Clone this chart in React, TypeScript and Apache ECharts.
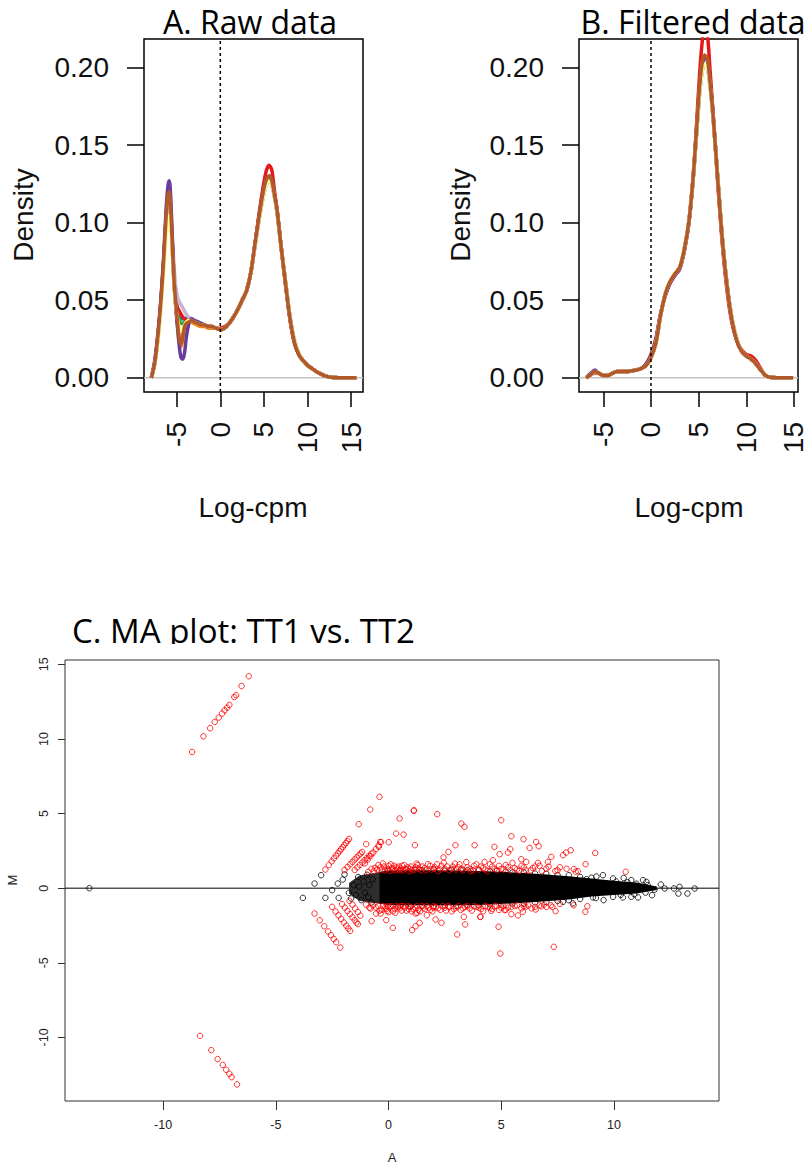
import React, { useEffect, useRef } from "react";
import * as echarts from "echarts";

// ---------- Panel A / B : density curves (12 samples, RColorBrewer "Paired") ----------
const sampleColors = ["#A6CEE3", "#1F78B4", "#B2DF8A", "#33A02C", "#FB9A99", "#E31A1C", "#FDBF6F", "#FF7F00", "#CAB2D6", "#6A3D9A", "#FFFF99", "#B15928"];

const rawXLeft = [-7.9, -7.5, -7.1, -6.8, -6.5, -6.2, -6.0, -5.85, -5.7, -5.5, -5.3, -5.1, -4.9, -4.7, -4.5, -4.3, -4.1, -3.9, -3.6, -3.3, -3.0, -2.6, -2.2, -1.8, -1.4, -1.0];
const rawLeftLightBlue = [0, 0.010, 0.028, 0.048, 0.072, 0.101, 0.112, 0.114, 0.106, 0.086, 0.066, 0.052, 0.045, 0.041, 0.040, 0.039, 0.039, 0.038, 0.038, 0.037, 0.036, 0.035, 0.035, 0.034, 0.033, 0.033];
const rawLeftBlue = [0, 0.010, 0.029, 0.049, 0.074, 0.104, 0.116, 0.118, 0.108, 0.085, 0.063, 0.049, 0.042, 0.039, 0.038, 0.038, 0.038, 0.038, 0.038, 0.037, 0.036, 0.035, 0.035, 0.034, 0.033, 0.033];
const rawLeftLightGreen = [0, 0.010, 0.029, 0.049, 0.073, 0.103, 0.114, 0.116, 0.106, 0.083, 0.060, 0.046, 0.036, 0.029, 0.027, 0.029, 0.033, 0.035, 0.036, 0.037, 0.036, 0.035, 0.034, 0.034, 0.033, 0.033];
const rawLeftGreen = [0, 0.010, 0.029, 0.049, 0.074, 0.104, 0.115, 0.117, 0.107, 0.084, 0.062, 0.048, 0.040, 0.037, 0.035, 0.035, 0.036, 0.037, 0.038, 0.038, 0.037, 0.036, 0.035, 0.034, 0.033, 0.033];
const rawLeftPink = [0, 0.010, 0.029, 0.049, 0.073, 0.103, 0.114, 0.116, 0.106, 0.083, 0.061, 0.047, 0.037, 0.031, 0.029, 0.030, 0.033, 0.035, 0.036, 0.037, 0.036, 0.035, 0.034, 0.034, 0.033, 0.033];
const rawLeftRed = [0, 0.010, 0.029, 0.049, 0.073, 0.102, 0.114, 0.116, 0.107, 0.085, 0.064, 0.050, 0.045, 0.043, 0.041, 0.039, 0.038, 0.037, 0.037, 0.037, 0.036, 0.035, 0.035, 0.034, 0.033, 0.033];
const rawLeftLightOrange = [0, 0.010, 0.029, 0.049, 0.074, 0.104, 0.115, 0.117, 0.107, 0.083, 0.060, 0.046, 0.035, 0.027, 0.025, 0.028, 0.032, 0.035, 0.036, 0.036, 0.035, 0.034, 0.034, 0.033, 0.033, 0.032];
const rawLeftOrange = [0, 0.010, 0.030, 0.050, 0.075, 0.106, 0.117, 0.118, 0.108, 0.083, 0.060, 0.046, 0.033, 0.023, 0.020, 0.025, 0.032, 0.035, 0.036, 0.036, 0.035, 0.034, 0.033, 0.033, 0.032, 0.032];
const rawLeftLightPurple = [0, 0.010, 0.028, 0.048, 0.072, 0.100, 0.112, 0.115, 0.108, 0.090, 0.072, 0.058, 0.052, 0.049, 0.047, 0.045, 0.043, 0.041, 0.039, 0.038, 0.037, 0.036, 0.035, 0.034, 0.033, 0.033];
const rawLeftPurple = [0, 0.012, 0.032, 0.052, 0.078, 0.110, 0.124, 0.127, 0.118, 0.090, 0.062, 0.045, 0.032, 0.020, 0.013, 0.012, 0.016, 0.026, 0.035, 0.038, 0.037, 0.036, 0.035, 0.034, 0.033, 0.033];
const rawLeftYellow = [0, 0.009, 0.026, 0.044, 0.066, 0.092, 0.102, 0.105, 0.098, 0.080, 0.060, 0.046, 0.038, 0.032, 0.030, 0.031, 0.034, 0.036, 0.037, 0.037, 0.036, 0.035, 0.034, 0.034, 0.033, 0.033];
const rawLeftBrown = [0, 0.010, 0.030, 0.050, 0.075, 0.105, 0.118, 0.120, 0.110, 0.085, 0.062, 0.048, 0.036, 0.024, 0.022, 0.027, 0.033, 0.035, 0.036, 0.037, 0.036, 0.035, 0.034, 0.034, 0.033, 0.033];

const rawXRight = [-0.5, 0, 0.5, 1, 1.5, 2, 2.5, 3, 3.5, 4, 4.5, 5, 5.3, 5.6, 5.9, 6.2, 6.5, 7, 7.5, 8, 8.5, 9, 9.5, 10, 10.5, 11, 11.5, 12, 12.5, 13, 14, 15, 15.6];
const rawRightCommon = [0.032, 0.031, 0.032, 0.035, 0.039, 0.044, 0.050, 0.056, 0.068, 0.087, 0.106, 0.122, 0.128, 0.130, 0.127, 0.118, 0.108, 0.083, 0.060, 0.038, 0.023, 0.015, 0.011, 0.008, 0.006, 0.004, 0.0025, 0.0012, 0.0005, 0.0002, 0, 0, 0];
const rawRightRed = [0.032, 0.032, 0.033, 0.035, 0.039, 0.044, 0.050, 0.056, 0.068, 0.087, 0.108, 0.126, 0.134, 0.137, 0.134, 0.121, 0.109, 0.083, 0.059, 0.037, 0.022, 0.015, 0.011, 0.008, 0.006, 0.004, 0.0025, 0.0012, 0.0005, 0.0002, 0, 0, 0];
const rawRightLow = [0.032, 0.031, 0.032, 0.035, 0.039, 0.044, 0.050, 0.056, 0.068, 0.086, 0.104, 0.119, 0.125, 0.127, 0.125, 0.117, 0.107, 0.083, 0.061, 0.039, 0.024, 0.016, 0.011, 0.008, 0.006, 0.004, 0.0025, 0.0012, 0.0005, 0.0002, 0, 0, 0];

const filtX = [-6.8, -6.3, -5.9, -5.5, -5.0, -4.5, -4.0, -3.5, -3.0, -2.5, -2.0, -1.5, -1.0, -0.5, 0, 0.5, 1.0, 1.5, 2.0, 2.5, 3.0, 3.5, 4.0, 4.5, 5.0, 5.3, 5.6, 5.9, 6.2, 6.5, 7.0, 7.5, 8.0, 8.5, 9.0, 9.5, 10.0, 10.5, 11.0, 11.5, 12.0, 12.5, 13.5, 14.9];
const filtCommon = [0, 0.002, 0.004, 0.003, 0.0015, 0.0015, 0.003, 0.004, 0.004, 0.004, 0.0045, 0.005, 0.006, 0.008, 0.013, 0.022, 0.040, 0.054, 0.062, 0.067, 0.071, 0.083, 0.102, 0.135, 0.180, 0.200, 0.208, 0.206, 0.190, 0.170, 0.128, 0.088, 0.058, 0.037, 0.024, 0.017, 0.014, 0.012, 0.009, 0.005, 0.0015, 0.0003, 0, 0];
const filtRed = [0, 0.002, 0.003, 0.003, 0.0015, 0.0015, 0.003, 0.004, 0.004, 0.004, 0.0045, 0.005, 0.006, 0.009, 0.015, 0.025, 0.041, 0.053, 0.061, 0.066, 0.070, 0.082, 0.101, 0.136, 0.186, 0.212, 0.224, 0.222, 0.198, 0.172, 0.126, 0.085, 0.055, 0.035, 0.024, 0.018, 0.015, 0.014, 0.011, 0.006, 0.0015, 0.0003, 0, 0];
const filtPurple = [0, 0.003, 0.005, 0.003, 0.0015, 0.0015, 0.003, 0.004, 0.004, 0.004, 0.0045, 0.005, 0.006, 0.009, 0.014, 0.024, 0.041, 0.053, 0.061, 0.066, 0.070, 0.082, 0.101, 0.134, 0.178, 0.199, 0.206, 0.205, 0.190, 0.171, 0.129, 0.089, 0.059, 0.037, 0.024, 0.017, 0.014, 0.012, 0.009, 0.005, 0.0015, 0.0003, 0, 0];
const filtLow = [0, 0.002, 0.004, 0.003, 0.0015, 0.0015, 0.003, 0.004, 0.004, 0.004, 0.0045, 0.005, 0.006, 0.008, 0.013, 0.022, 0.040, 0.054, 0.062, 0.067, 0.071, 0.083, 0.102, 0.134, 0.176, 0.195, 0.202, 0.201, 0.188, 0.169, 0.129, 0.089, 0.059, 0.038, 0.025, 0.017, 0.014, 0.012, 0.009, 0.005, 0.0015, 0.0003, 0, 0];

const rawLeftBySample = [rawLeftLightBlue, rawLeftBlue, rawLeftLightGreen, rawLeftGreen, rawLeftPink, rawLeftRed, rawLeftLightOrange, rawLeftOrange, rawLeftLightPurple, rawLeftPurple, rawLeftYellow, rawLeftBrown];
const rawRightBySample = [rawRightLow, rawRightCommon, rawRightLow, rawRightLow, rawRightCommon, rawRightRed, rawRightLow, rawRightCommon, rawRightLow, rawRightCommon, rawRightLow, rawRightCommon];
const filtBySample = [filtLow, filtCommon, filtLow, filtLow, filtCommon, filtRed, filtLow, filtCommon, filtLow, filtPurple, filtLow, filtCommon];

const densYTicks = [0, 0.05, 0.1, 0.15, 0.2];
const densXTicks = [-5, 0, 5, 10, 15];

// ---------- Panel C : MA plot ----------
const maXTicks = [-10, -5, 0, 5, 10];
const maYTicks = [-10, -5, 0, 5, 10, 15];

// dense central cloud of non-DE genes (envelope of the solid black mass)
const bandA = [-0.4, 0, 1, 2, 3, 4, 5, 6, 7, 8, 9, 10, 11, 11.9];
const bandUpper = [1.1, 1.18, 1.2, 1.2, 1.18, 1.15, 1.1, 1.02, 0.92, 0.8, 0.65, 0.5, 0.38, 0.12];
const bandLower = [-1.05, -1.12, -1.15, -1.15, -1.14, -1.12, -1.06, -0.98, -0.88, -0.75, -0.55, -0.45, -0.35, -0.12];
// hatched low-count fan left of the solid mass
const latticeA = [-1.75, -1.3, -0.8, -0.35];
const latticeUpper = [0.35, 0.85, 0.98, 1.08];
const latticeLower = [-0.35, -0.85, -0.98, -1.03];

const blackPoints = [
  [-13.27, 0], [-3.80, -0.65], [-3.28, 0.31], [-2.99, 0.87], [-2.80, -0.65], [-2.50, -0.13], [-2.21, -0.65], [-2.25, 0.31],
  [-2.03, 0.58], [-1.95, 0.92], [-1.76, -0.31], [-1.66, -0.69], [-1.55, 0.2], [-1.45, -0.45], [-1.35, 0.75], [-1.3, 0.1],
  [-1.2, -0.8], [-1.1, 0.45], [-1.05, -0.3], [-0.95, 0.9], [-0.9, -0.6], [-0.85, 0.2], [-0.75, -0.95], [-0.7, 0.6],
  [9.51, 0.87], [9.96, 0.65], [10.43, 0.69], [10.77, 0.54], [11.29, 0.54], [11.44, 0.42], [12.08, 0.25], [12.25, -0.02],
  [12.66, -0.02], [12.91, 0.09], [12.86, -0.36], [13.26, -0.36], [13.58, -0.02], [9.54, -0.8], [9.96, -0.58], [10.40, -0.62],
  [9.07, -0.62], [8.18, -1.02], [7.74, -0.91], [10.77, -0.58], [11.07, -0.62], [11.69, -0.47], [8.78, 0.6], [9.22, 0.78],
  [0.5, 1.15], [1.5, 1.2], [2.5, 1.18], [3.5, 1.2], [4.5, 1.12], [5.5, 1.06], [6.5, 0.98], [7.5, 0.88], [8.5, 0.75],
  [0.5, -1.15], [1.5, -1.16], [2.5, -1.15], [3.5, -1.12], [4.5, -1.08], [5.5, -1.02], [6.5, -0.95], [7.5, -0.85], [8.5, -0.72],
  [0.0, 1.2], [0.8, 1.24], [1.2, 1.22], [2.0, 1.25], [2.8, 1.22], [3.2, 1.24], [4.0, 1.2], [4.8, 1.15], [5.2, 1.1], [6.0, 1.06],
  [7.0, 0.97], [8.0, 0.87], [9.0, 0.7], [0.2, -1.17], [1.0, -1.2], [2.0, -1.2], [3.0, -1.18], [4.0, -1.15], [5.0, -1.1],
  [6.0, -1.03], [7.0, -0.93], [8.0, -0.8], [9.2, -0.66], [10.1, 0.45], [10.6, 0.4], [11.0, 0.3], [11.5, 0.2], [11.8, -0.1],
  [10.3, -0.45], [10.9, -0.4], [11.4, -0.3],
];

const redFarUpper = [[-8.71, 9.13], [-8.21, 10.18], [-7.91, 10.72], [-7.71, 11.14], [-7.53, 11.43], [-7.38, 11.70], [-7.27, 11.92], [-7.16, 12.10], [-7.06, 12.28], [-6.84, 12.81], [-6.76, 12.93], [-6.52, 13.55], [-6.20, 14.20]];
const redFarLower = [[-8.36, -9.89], [-7.86, -10.85], [-7.58, -11.45], [-7.35, -11.84], [-7.20, -12.17], [-7.06, -12.44], [-6.96, -12.66], [-6.72, -13.15]];

const redStreaks = [
  [-2.80, 1.25], [-2.65, 1.55], [-2.52, 1.80], [-2.42, 2.00], [-2.33, 2.17], [-2.25, 2.33], [-2.17, 2.48], [-2.10, 2.62], [-2.03, 2.75], [-1.96, 2.89], [-1.89, 3.02], [-1.82, 3.16], [-1.75, 3.30],
  [-1.95, 1.22], [-1.82, 1.42], [-1.70, 1.60], [-1.60, 1.76], [-1.50, 1.92], [-1.41, 2.06], [-1.32, 2.20], [-1.24, 2.32], [-1.17, 2.43],
  [-1.50, 1.22], [-1.38, 1.40], [-1.27, 1.56], [-1.16, 1.72], [-1.06, 1.87], [-0.96, 2.02], [-0.86, 2.17], [-0.76, 2.31],
  [-1.05, 1.66], [-0.92, 1.92], [-0.80, 2.15], [-0.68, 2.38], [-0.56, 2.62], [-0.44, 2.86], [-0.33, 3.08],
  [-3.28, -1.70], [-3.05, -2.15], [-2.85, -2.55], [-2.68, -2.90], [-2.55, -3.15], [-2.43, -3.40], [-2.32, -3.62], [-2.14, -3.98],
  [-2.50, -1.25], [-2.35, -1.56], [-2.22, -1.82], [-2.10, -2.06], [-1.98, -2.30], [-1.87, -2.52], [-1.78, -2.70], [-1.70, -2.86],
  [-2.06, -1.07], [-1.94, -1.30], [-1.82, -1.53], [-1.71, -1.74], [-1.60, -1.95], [-1.50, -2.14], [-1.42, -2.30], [-1.36, -2.41],
  [-1.73, -0.85], [-1.60, -1.10], [-1.48, -1.36], [-1.36, -1.60], [-1.25, -1.84],
];

const redOutliers = [
  [-0.40, 6.12], [-0.81, 5.27], [-1.32, 4.29], [1.12, 5.18], [1.13, 5.22], [0.49, 4.67], [2.16, 4.96], [0.34, 3.66], [0.67, 3.59],
  [1.17, 2.88], [3.23, 4.33], [3.37, 4.11], [2.97, 2.88], [3.82, 2.88], [2.66, 2.43], [2.44, 2.06], [0.01, 3.08], [-0.37, 3.10],
  [-0.43, 2.77], [-0.99, 2.95], [5.00, 4.55], [5.45, 3.48], [5.99, 3.28], [6.55, 3.10], [6.66, 2.81], [6.26, 2.70], [5.40, 2.61],
  [5.30, 2.39], [4.70, 2.77], [4.93, 2.28], [8.08, 2.54], [7.88, 2.39], [7.74, 2.21], [9.17, 2.36], [8.74, 1.61], [8.22, 1.28],
  [8.40, 1.14], [7.22, 2.1], [7.07, 1.76], [6.11, 1.76], [5.89, 1.94], [6.63, 1.70], [10.52, 1.10], [4.26, 1.76], [4.63, 1.87],
  [3.05, -3.10], [1.05, -2.81], [1.20, -2.55], [1.38, -2.32], [0.19, -2.66], [1.70, -1.81], [2.09, -2.10], [2.35, -2.32], [3.40, -2.43],
  [3.34, -1.92], [4.07, -1.92], [-0.10, -2.14], [-0.75, -2.21], [-0.55, -1.70], [-0.80, -1.36], [-0.07, -1.52], [1.27, -1.65], [2.00, -1.32],
  [4.88, -2.59], [4.96, -4.38], [7.33, -3.93], [8.73, -1.58], [8.82, -1.21], [8.21, -1.14], [7.41, -1.54], [7.27, -1.25], [6.53, -1.43],
  [5.74, -1.83], [5.45, -1.74], [5.15, -1.47], [4.56, -1.52], [4.08, -1.92], [6.78, -1.21], [6.08, -1.25], [5.96, -1.58],
];

const redFringeUpper = [
  [-0.6, 1.35], [-0.45, 1.55], [-0.3, 1.2], [-0.2, 1.45], [-0.05, 1.3], [0.1, 1.6], [0.2, 1.25], [0.35, 1.4], [0.5, 1.2], [0.6, 1.5],
  [0.75, 1.3], [0.9, 1.15], [1.0, 1.45], [1.15, 1.25], [1.3, 1.55], [1.45, 1.2], [1.6, 1.35], [1.75, 1.6], [1.9, 1.25], [2.05, 1.4],
  [2.2, 1.15], [2.35, 1.5], [2.5, 1.3], [2.7, 1.2], [2.85, 1.45], [3.0, 1.25], [3.15, 1.6], [3.3, 1.2], [3.5, 1.4], [3.65, 1.15],
  [3.8, 1.5], [4.0, 1.25], [4.2, 1.35], [4.4, 1.15], [4.6, 1.45], [4.8, 1.2], [5.0, 1.3], [5.2, 1.55], [5.4, 1.2], [5.6, 1.35],
  [5.8, 1.15], [6.0, 1.4], [6.3, 1.2], [6.5, 1.45], [6.8, 1.15], [7.0, 1.3], [7.4, 1.15], [7.6, 1.4],
  [-0.5, 1.25], [-0.35, 1.4], [-0.15, 1.2], [0.0, 1.5], [0.15, 1.35], [0.3, 1.2], [0.45, 1.45], [0.55, 1.3], [0.7, 1.55], [0.85, 1.4],
  [1.05, 1.2], [1.2, 1.4], [1.35, 1.3], [1.5, 1.45], [1.65, 1.2], [1.85, 1.5], [2.0, 1.3], [2.15, 1.6], [2.3, 1.25], [2.45, 1.7],
  [2.6, 1.45], [2.8, 1.3], [2.95, 1.65], [3.1, 1.4], [3.25, 1.3], [3.45, 1.75], [3.6, 1.3], [3.75, 1.2], [3.9, 1.6], [4.1, 1.45],
  [4.3, 1.25], [4.5, 1.6], [4.7, 1.3], [4.9, 1.5], [5.1, 1.25], [5.3, 1.4], [5.5, 1.7], [5.7, 1.25], [5.9, 1.5], [6.1, 1.2],
  [6.4, 1.35], [6.7, 1.5], [7.1, 1.45], [7.5, 1.2], [7.9, 1.3], [8.3, 1.1],
  [-0.9, 1.1], [-0.75, 1.3], [-0.65, 1.15], [-0.25, 1.65], [0.05, 1.15], [0.25, 1.5], [0.4, 1.25], [0.65, 1.2], [0.95, 1.3], [1.25, 1.65],
];
const redFringeLower = [
  [-0.55, -1.3], [-0.4, -1.5], [-0.25, -1.2], [-0.1, -1.4], [0.05, -1.25], [0.2, -1.55], [0.35, -1.2], [0.5, -1.35], [0.65, -1.2],
  [0.8, -1.5], [0.95, -1.25], [1.1, -1.4], [1.25, -1.2], [1.4, -1.55], [1.55, -1.3], [1.7, -1.2], [1.85, -1.45], [2.0, -1.2],
  [2.2, -1.35], [2.4, -1.2], [2.55, -1.5], [2.7, -1.25], [2.9, -1.4], [3.1, -1.2], [3.3, -1.35], [3.5, -1.2], [3.7, -1.5],
  [3.9, -1.25], [4.1, -1.4], [4.3, -1.2], [4.5, -1.3], [4.7, -1.2], [4.9, -1.45], [5.1, -1.2], [5.3, -1.3], [5.6, -1.2],
  [5.9, -1.35], [6.2, -1.15], [6.5, -1.25], [6.9, -1.1], [7.2, -1.15], [7.6, -1.05],
  [-0.45, -1.2], [-0.3, -1.45], [-0.15, -1.3], [0.0, -1.6], [0.12, -1.2], [0.28, -1.4], [0.42, -1.25], [0.58, -1.5], [0.72, -1.3],
  [0.88, -1.2], [1.02, -1.55], [1.18, -1.3], [1.32, -1.45], [1.48, -1.2], [1.62, -1.4], [1.78, -1.3], [1.95, -1.55], [2.1, -1.25],
  [2.3, -1.45], [2.5, -1.3], [2.65, -1.2], [2.8, -1.55], [3.0, -1.3], [3.2, -1.45], [3.4, -1.25], [3.6, -1.35], [3.8, -1.2],
  [4.0, -1.3], [4.2, -1.55], [4.4, -1.25], [4.6, -1.4], [4.8, -1.2], [5.0, -1.3], [5.2, -1.45], [5.45, -1.25], [5.7, -1.15],
  [6.0, -1.2], [6.35, -1.35], [6.7, -1.15], [7.0, -1.25],
  [-1.0, -1.1], [-0.85, -1.3], [-0.7, -1.15], [-0.35, -1.7], [-0.05, -1.2], [0.3, -1.65], [0.55, -1.2], [0.9, -1.4], [1.2, -1.7],
];

// axis ranges
const AX = { min: -8.75, max: 16.36 };
const BX = { min: -7.55, max: 15.42 };
const DY = { min: -0.0092, max: 0.2185 };
const MX = { min: -14.35, max: 14.66 };
const MY = { min: -14.26, max: 15.29 };

const ARIAL = '"Liberation Sans", Arial, sans-serif';
const CALIBRI = '"Open Sans", "Noto Sans", sans-serif';

function densAxes(gridIndex: number, xr: { min: number; max: number }) {
  const x = {
    type: "value", gridIndex, min: xr.min, max: xr.max,
    axisLine: { show: false, onZero: false },
    splitLine: { show: false },
    axisTick: { show: true, length: 15, customValues: densXTicks, lineStyle: { color: "#000", width: 1.5 } },
    axisLabel: { customValues: densXTicks, rotate: 90, margin: 30, fontSize: 28, fontFamily: ARIAL, color: "#111" },
  };
  const y = {
    type: "value", gridIndex, min: DY.min, max: DY.max,
    axisLine: { show: false, onZero: false },
    splitLine: { show: false },
    axisTick: { show: true, length: 17, customValues: densYTicks, lineStyle: { color: "#000", width: 1.5 } },
    axisLabel: { customValues: densYTicks, margin: 35, fontSize: 28, fontFamily: ARIAL, color: "#111", formatter: (v: number) => v.toFixed(2) },
  };
  return { x, y };
}

function densSeries(gridIndex: number, xr: { min: number; max: number }, kind: "raw" | "filt") {
  const out: any[] = [];
  out.push({
    type: "line", xAxisIndex: gridIndex, yAxisIndex: gridIndex, data: [[xr.min, 0], [xr.max, 0]],
    showSymbol: false, lineStyle: { color: "#c4c4c4", width: 1.5 }, silent: true, z: 1,
  });
  sampleColors.forEach((c, i) => {
    let data: number[][];
    if (kind === "raw") {
      data = rawXLeft.map((x, k) => [x, rawLeftBySample[i][k]]).concat(rawXRight.map((x, k) => [x, rawRightBySample[i][k]]));
    } else {
      data = filtX.map((x, k) => [x, filtBySample[i][k]]);
    }
    out.push({
      type: "line", xAxisIndex: gridIndex, yAxisIndex: gridIndex, data, showSymbol: false, smooth: 0.3,
      clip: true, lineStyle: { color: c, width: 3.5 }, z: 2 + i,
    });
  });
  out.push({
    type: "line", xAxisIndex: gridIndex, yAxisIndex: gridIndex, data: [[0, DY.min], [0, DY.max]],
    showSymbol: false, lineStyle: { color: "#000", width: 1.5, type: [3, 3] }, silent: true, z: 20,
  });
  return out;
}

function envelopeSeries(xs: number[], up: number[], lo: number[], fill: string, z: number) {
  return {
    type: "custom", xAxisIndex: 2, yAxisIndex: 2, data: [[xs[0], 0]], z, silent: true,
    renderItem: (_params: any, api: any) => {
      const u = xs.map((x, i) => api.coord([x, up[i]]));
      const l = xs.map((x, i) => api.coord([x, lo[i]])).reverse();
      return { type: "polygon", shape: { points: u.concat(l) }, style: { fill } };
    },
  };
}

export default function App() {
  const ref = useRef<HTMLDivElement>(null);
  useEffect(() => {
    if (!ref.current) return;
    const chart = echarts.init(ref.current, undefined, { renderer: "svg" });
    const a = densAxes(0, AX);
    const b = densAxes(1, BX);
    const maAxisLabel = { fontSize: 12.5, fontFamily: ARIAL, color: "#222" };
    const circleStyle = (col: string) => ({ color: "rgba(0,0,0,0)", borderColor: col, borderWidth: 1 });

    const option: any = {
      animation: false,
      backgroundColor: "#fff",
      grid: [
        { left: 144, top: 39, width: 219, height: 353, show: true, borderColor: "#000", borderWidth: 1.5, backgroundColor: "transparent" },
        { left: 579, top: 39, width: 219, height: 353, show: true, borderColor: "#000", borderWidth: 1.5, backgroundColor: "transparent" },
        { left: 65, top: 660, width: 654, height: 441, show: true, borderColor: "#333", borderWidth: 1, backgroundColor: "transparent" },
      ],
      xAxis: [
        a.x, b.x,
        {
          type: "value", gridIndex: 2, min: MX.min, max: MX.max,
          axisLine: { show: false, onZero: false }, splitLine: { show: false },
          axisTick: { length: 9, customValues: maXTicks, lineStyle: { color: "#333" } },
          axisLabel: { ...maAxisLabel, customValues: maXTicks, margin: 17 },
        },
      ],
      yAxis: [
        a.y, b.y,
        {
          type: "value", gridIndex: 2, min: MY.min, max: MY.max,
          axisLine: { show: false, onZero: false }, splitLine: { show: false },
          axisTick: { length: 7, customValues: maYTicks, lineStyle: { color: "#333" } },
          axisLabel: { ...maAxisLabel, customValues: maYTicks, rotate: 90, margin: 15 },
        },
      ],
      series: [
        ...densSeries(0, AX, "raw"),
        ...densSeries(1, BX, "filt"),
        {
          type: "line", xAxisIndex: 2, yAxisIndex: 2, data: [[MX.min, 0], [MX.max, 0]], showSymbol: false,
          lineStyle: { color: "#000", width: 1 }, silent: true, z: 1,
        },
        envelopeSeries(latticeA, latticeUpper, latticeLower, "#2e2e2e", 2),
        envelopeSeries(bandA, bandUpper, bandLower, "#000", 2),
        {
          type: "scatter", xAxisIndex: 2, yAxisIndex: 2, data: blackPoints, symbol: "circle", symbolSize: 5.5,
          itemStyle: circleStyle("#000"), z: 3, silent: true,
        },
        {
          type: "scatter", xAxisIndex: 2, yAxisIndex: 2,
          data: [...redFarUpper, ...redFarLower, ...redStreaks, ...redOutliers, ...redFringeUpper, ...redFringeLower],
          symbol: "circle", symbolSize: 5.5, itemStyle: circleStyle("#FF0000"), z: 4, silent: true,
        },
      ],
      graphic: [
        { type: "text", x: 250, y: 21, style: { text: "A. Raw data", fontSize: 32, fontFamily: CALIBRI, fill: "#000", textAlign: "center", textVerticalAlign: "middle" } },
        { type: "text", x: 693, y: 21, style: { text: "B. Filtered data", fontSize: 32, fontFamily: CALIBRI, fill: "#000", textAlign: "center", textVerticalAlign: "middle" } },
        { type: "text", x: 23, y: 215, rotation: Math.PI / 2, style: { text: "Density", fontSize: 28, fontFamily: ARIAL, fill: "#111", textAlign: "center", textVerticalAlign: "middle" } },
        { type: "text", x: 460, y: 215, rotation: Math.PI / 2, style: { text: "Density", fontSize: 28, fontFamily: ARIAL, fill: "#111", textAlign: "center", textVerticalAlign: "middle" } },
        { type: "text", x: 253, y: 507, style: { text: "Log-cpm", fontSize: 28, fontFamily: ARIAL, fill: "#111", textAlign: "center", textVerticalAlign: "middle" } },
        { type: "text", x: 689, y: 507, style: { text: "Log-cpm", fontSize: 28, fontFamily: ARIAL, fill: "#111", textAlign: "center", textVerticalAlign: "middle" } },
        { type: "text", x: 72, y: 630, style: { text: "C. MA plot: TT1 vs. TT2", fontSize: 33, fontFamily: CALIBRI, fill: "#000", textAlign: "left", textVerticalAlign: "middle" } },
        { type: "rect", shape: { x: 60, y: 644, width: 380, height: 14 }, style: { fill: "#fff" }, z: 100 },
        { type: "text", x: 12, y: 880, rotation: Math.PI / 2, style: { text: "M", fontSize: 13, fontFamily: ARIAL, fill: "#222", textAlign: "center", textVerticalAlign: "middle" } },
        { type: "text", x: 392, y: 1157, style: { text: "A", fontSize: 13, fontFamily: ARIAL, fill: "#222", textAlign: "center", textVerticalAlign: "middle" } },
      ],
    };
    chart.setOption(option);
    return () => chart.dispose();
  }, []);
  return <div ref={ref} style={{ position: "absolute", left: 0, top: 0, width: 811, height: 1163 }} />;
}
